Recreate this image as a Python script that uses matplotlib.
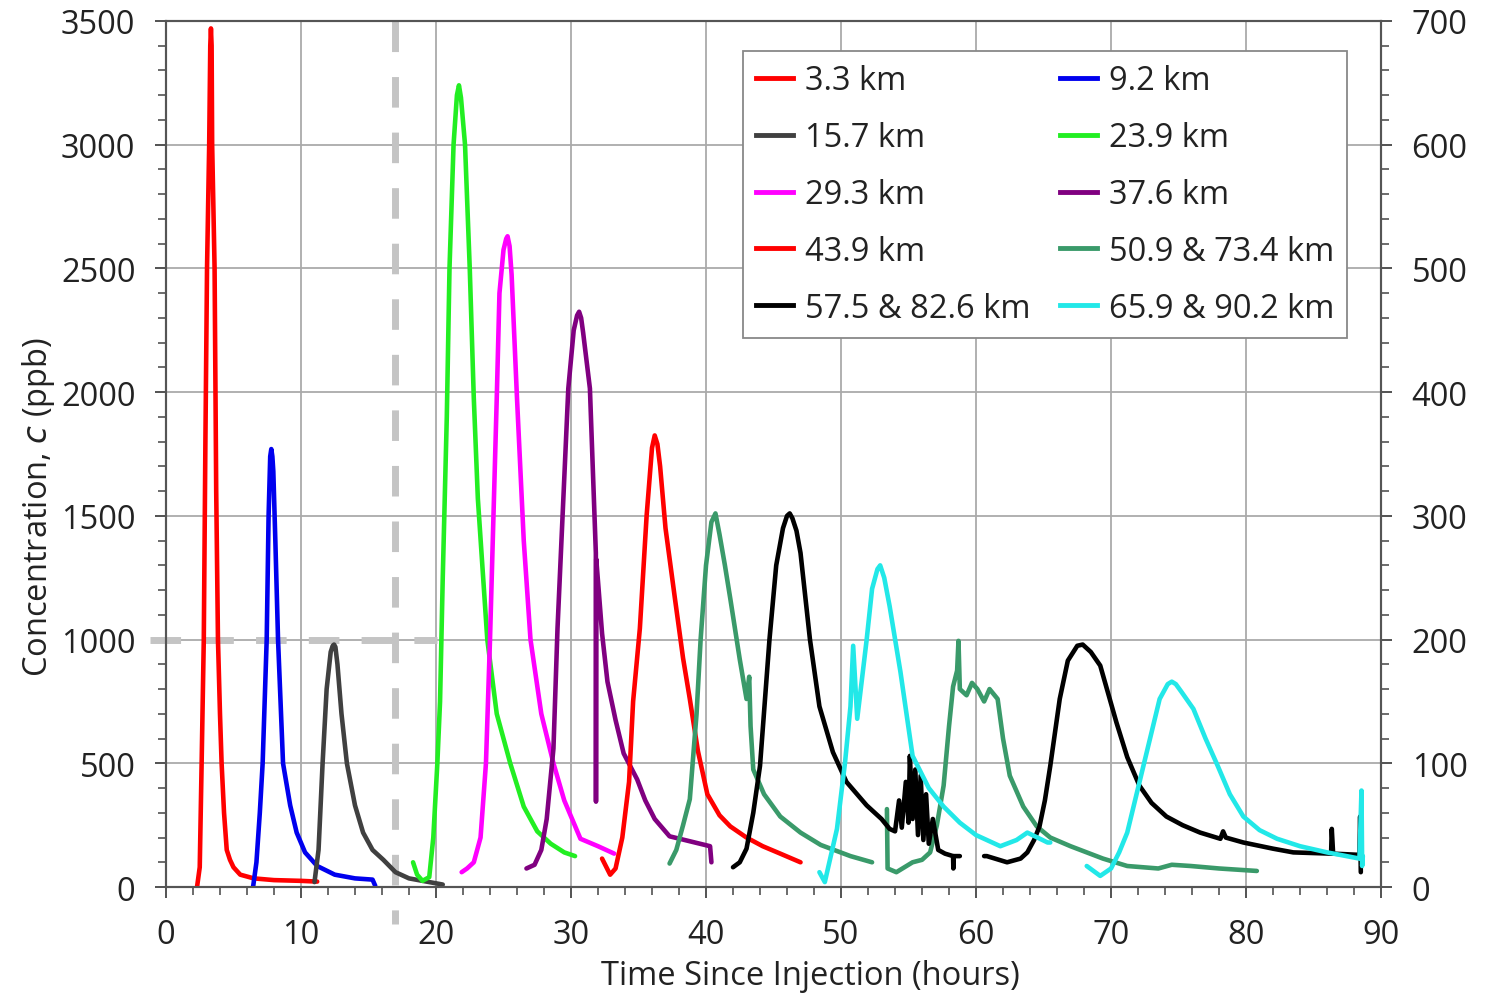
import matplotlib
matplotlib.use('Agg')
import matplotlib.pyplot as plt
from matplotlib.lines import Line2D
from matplotlib.ticker import MultipleLocator

plt.rcParams['font.family'] = ['Open Sans', 'DejaVu Sans']

# ---- data (time in hours, concentration) ----
# left axis (ppb), upstream stations
t_3_3 = [2.3, 2.5, 2.64, 2.8, 2.92, 3.04, 3.2, 3.28, 3.33, 3.38, 3.42, 3.6, 3.72, 3.85, 4.0, 4.12, 4.3, 4.5, 4.74, 5.0, 5.5, 6.5, 8.0, 10.0, 11.2]
c_3_3 = [0, 80, 500, 1000, 1800, 2500, 3000, 3400, 3470, 3400, 3000, 2500, 1600, 1000, 700, 500, 300, 150, 110, 80, 50, 35, 28, 25, 22]

t_9_2 = [6.45, 6.7, 6.95, 7.16, 7.46, 7.6, 7.72, 7.8, 7.88, 7.95, 8.1, 8.3, 8.67, 9.2, 9.68, 10.3, 11.2, 12.5, 14.0, 15.3, 15.5]
c_9_2 = [0, 100, 300, 500, 1000, 1500, 1740, 1770, 1740, 1680, 1400, 1000, 500, 330, 220, 140, 85, 50, 35, 30, 5]

t_15_7 = [11.0, 11.3, 11.6, 11.9, 12.2, 12.35, 12.45, 12.55, 12.7, 13.0, 13.4, 14.0, 14.6, 15.3, 16.1, 17.0, 18.0, 19.5, 20.5]
c_15_7 = [20, 150, 500, 800, 950, 975, 980, 970, 900, 700, 500, 330, 220, 150, 110, 60, 35, 20, 10]

# right axis (ppb), downstream stations
t_23_9 = [18.3, 18.6, 19.0, 19.5, 19.8, 20.1, 20.3, 20.5, 20.8, 21.0, 21.3, 21.55, 21.7, 21.85, 22.15, 22.5, 22.8, 23.1, 23.8, 24.5, 25.5, 26.5, 27.5, 28.5, 29.5, 30.3]
c_23_9 = [20, 10, 5, 8, 40, 100, 150, 250, 380, 500, 600, 640, 648, 638, 600, 500, 395, 314, 200, 140, 100, 65, 45, 35, 28, 25]

t_29_3 = [21.9, 22.3, 22.8, 23.3, 23.7, 24.0, 24.5, 24.7, 25.0, 25.2, 25.3, 25.45, 25.6, 26.0, 26.5, 27.0, 27.8, 28.7, 29.5, 30.7, 32.0, 33.2]
c_29_3 = [12, 15, 20, 40, 100, 200, 395, 480, 515, 524, 526, 518, 495, 395, 280, 200, 140, 100, 70, 39, 33, 27]

t_37_6 = [26.7, 27.3, 27.8, 28.2, 28.7, 29.0, 29.4, 29.8, 30.2, 30.45, 30.6, 30.75, 30.9, 31.4, 31.84, 31.85, 31.87, 32.0, 32.3, 32.7, 33.3, 33.9, 34.9, 35.5, 36.2, 37.3, 38.8, 40.3, 40.4]
c_37_6 = [15, 18, 30, 55, 112, 209, 306, 403, 450, 462, 465, 460, 448, 403, 270, 69, 265, 247, 205, 166, 135, 108, 87, 70, 55, 41, 37, 33, 20]

t_43_9 = [32.3, 32.9, 33.3, 33.8, 34.3, 34.6, 35.1, 35.6, 36.0, 36.2, 36.4, 36.6, 37.0, 37.7, 38.3, 38.8, 39.4, 40.1, 41.0, 41.8, 43.0, 44.2, 45.5, 47.0]
c_43_9 = [23, 10, 15, 40, 85, 150, 209, 300, 355, 365, 358, 340, 290, 233, 185, 152, 110, 75, 58, 49, 40, 33, 27, 20]

t_50_9 = [37.3, 37.8, 38.3, 38.8, 39.3, 39.6, 40.0, 40.4, 40.7, 41.0, 41.4, 41.8, 42.5, 43.0, 43.2, 43.3, 43.5, 44.3, 45.5, 47.0, 48.5, 50.7, 52.3]
c_50_9 = [19, 30, 50, 71, 140, 200, 260, 295, 302, 285, 260, 233, 184, 152, 170, 130, 95, 75, 57, 44, 34, 25, 20]

t_73_4 = [53.4, 53.45, 54.1, 55.3, 56.0, 56.6, 57.1, 57.6, 58.0, 58.3, 58.6, 58.7, 58.8, 59.3, 59.7, 60.1, 60.6, 61.0, 61.6, 62.0, 62.5, 63.5, 64.5, 65.5, 67.0, 69.4, 71.2, 73.5, 74.5, 75.9, 78.0, 80.8]
c_73_4 = [63, 15, 12, 20, 22, 28, 50, 82, 130, 162, 175, 199, 160, 155, 165, 160, 150, 160, 152, 120, 90, 65, 49, 40, 33, 23, 17, 15, 18, 17, 15, 13]

t_57_5 = [42.0, 42.5, 43.0, 43.5, 44.0, 44.7, 45.2, 45.7, 46.0, 46.2, 46.4, 46.7, 47.0, 47.7, 48.4, 49.4, 50.4, 51.9, 53.0, 53.6, 54.0, 54.3, 54.5, 54.8, 55.0, 55.1, 55.3, 55.5, 55.7, 55.9, 56.1, 56.3, 56.5, 56.8, 57.2, 57.7, 58.3, 58.32, 58.35, 58.8]
c_57_5 = [16, 20, 31, 60, 98, 200, 260, 290, 300, 302, 298, 288, 270, 200, 146, 109, 85, 66, 55, 47, 45, 70, 48, 85, 52, 106, 55, 95, 42, 90, 38, 75, 35, 55, 30, 27, 25, 15, 25, 25]

t_82_6 = [60.6, 60.8, 62.3, 63.3, 63.8, 64.3, 64.7, 65.1, 65.5, 66.2, 66.8, 67.5, 67.9, 68.5, 69.2, 70.4, 71.2, 72.1, 73.0, 74.1, 75.3, 76.6, 78.1, 78.3, 78.5, 79.8, 82.0, 83.5, 86.3, 86.35, 86.45, 88.4, 88.45, 88.5]
c_82_6 = [25, 25, 20, 23, 28, 38, 49, 70, 98, 152, 183, 195, 196, 190, 179, 133, 105, 82, 68, 57, 50, 44, 39, 45, 40, 36, 31, 28, 27, 47, 27, 26, 57, 12]

t_65_9 = [48.4, 48.8, 49.7, 50.3, 50.7, 50.9, 51.2, 51.9, 52.3, 52.7, 52.9, 53.2, 53.6, 54.4, 55.3, 56.5, 57.6, 58.8, 60.0, 61.8, 63.0, 63.8, 65.3, 65.5]
c_65_9 = [12, 4, 47, 101, 146, 195, 136, 200, 241, 257, 260, 250, 227, 174, 106, 80, 65, 52, 42, 33, 38, 44, 36, 36]

t_90_2 = [68.2, 69.2, 70.0, 70.6, 71.2, 72.4, 73.6, 74.2, 74.5, 74.8, 75.2, 76.1, 77.0, 77.9, 78.8, 79.8, 81.0, 82.3, 84.0, 86.0, 88.4, 88.55, 88.6, 88.65]
c_90_2 = [17, 9, 15, 28, 44, 98, 152, 164, 166, 164, 158, 144, 120, 98, 75, 57, 46, 39, 33, 28, 23, 78, 17, 25]

labels = ['3.3 km', '9.2 km', '15.7 km', '23.9 km', '29.3 km', '37.6 km',
          '43.9 km', '50.9 & 73.4 km', '57.5 & 82.6 km', '65.9 & 90.2 km']
colors = ['#ff0000', '#0000ee', '#404040', '#22ee22', '#ff00ff', '#800080',
          '#ff0000', '#3a9a6a', '#000000', '#22e8e8']

x_ticks = list(range(0, 91, 10))
left_ticks = list(range(0, 3501, 500))
right_ticks = list(range(0, 701, 100))

FS = 23.5

fig = plt.figure(figsize=(14.94, 9.95), dpi=100)
ax = fig.add_axes([0.1111, 0.1075, 0.8133, 0.8704])
ax2 = ax.twinx()

LW = 3.3
left_sets = [(t_3_3, c_3_3, 0), (t_9_2, c_9_2, 1), (t_15_7, c_15_7, 2)]
right_sets = [(t_23_9, c_23_9, 3), (t_29_3, c_29_3, 4), (t_37_6, c_37_6, 5),
              (t_43_9, c_43_9, 6), (t_50_9, c_50_9, 7), (t_73_4, c_73_4, 7),
              (t_57_5, c_57_5, 8), (t_82_6, c_82_6, 8),
              (t_65_9, c_65_9, 9), (t_90_2, c_90_2, 9)]
for t, c, k in left_sets:
    ax.plot(t, c, color=colors[k], lw=LW, solid_joinstyle='round',
            solid_capstyle='round', zorder=3)
for t, c, k in right_sets:
    ax2.plot(t, c, color=colors[k], lw=LW, solid_joinstyle='round',
             solid_capstyle='round', zorder=3)

# reference lines: threshold and axis switch
ax.plot([-1.2, 20.1], [1000, 1000], color='#c4c4c4', lw=5, dashes=(4.4, 3.2),
        clip_on=False, zorder=2)
ax.plot([17, 17], [3500, -150], color='#c4c4c4', lw=5, dashes=(4.4, 3.6),
        clip_on=False, zorder=2)

ax.set_xlim(0, 90)
ax.set_ylim(0, 3500)
ax2.set_ylim(0, 700)
ax.set_xticks(x_ticks)
ax.set_yticks(left_ticks)
ax2.set_yticks(right_ticks)
ax.xaxis.set_minor_locator(MultipleLocator(2))
ax.yaxis.set_minor_locator(MultipleLocator(100))
ax2.yaxis.set_minor_locator(MultipleLocator(20))
ax.grid(True, which='major', color='#aaaaaa', lw=1.3)
ax.set_axisbelow(True)

for a in (ax, ax2):
    a.tick_params(which='major', direction='out', length=8, width=1.3,
                  color='#444444', labelsize=FS, pad=14, labelcolor='#222222')
    a.tick_params(which='minor', direction='out', length=6, width=1.1,
                  color='#444444')
    for s in a.spines.values():
        s.set_color('#555555')
        s.set_linewidth(1.5)

ax.set_xlabel('Time Since Injection (hours)', fontsize=FS, color='#222222')
ax.set_ylabel('Concentration, $\\mathit{c}$ (ppb)', fontsize=FS, color='#222222')
ax.xaxis.set_label_coords(0.53, -0.083)
ax.yaxis.set_label_coords(-0.09, 0.44)

# legend laid out row-wise (matplotlib fills columns first)
handles = [Line2D([], [], color=col, lw=3.5) for col in colors]
order = [0, 2, 4, 6, 8, 1, 3, 5, 7, 9]
leg = ax2.legend([handles[i] for i in order], [labels[i] for i in order],
                 ncol=2, loc='upper right', bbox_to_anchor=(0.972, 0.965),
                 borderaxespad=0, fontsize=FS, frameon=True, fancybox=False,
                 framealpha=1, edgecolor='#888888', handlelength=1.15,
                 handletextpad=0.35, columnspacing=0.9, labelspacing=0.73,
                 borderpad=0.4)
leg.get_frame().set_linewidth(1.3)
for txt in leg.get_texts():
    txt.set_color('#222222')

fig.savefig('out.png', dpi=100)
